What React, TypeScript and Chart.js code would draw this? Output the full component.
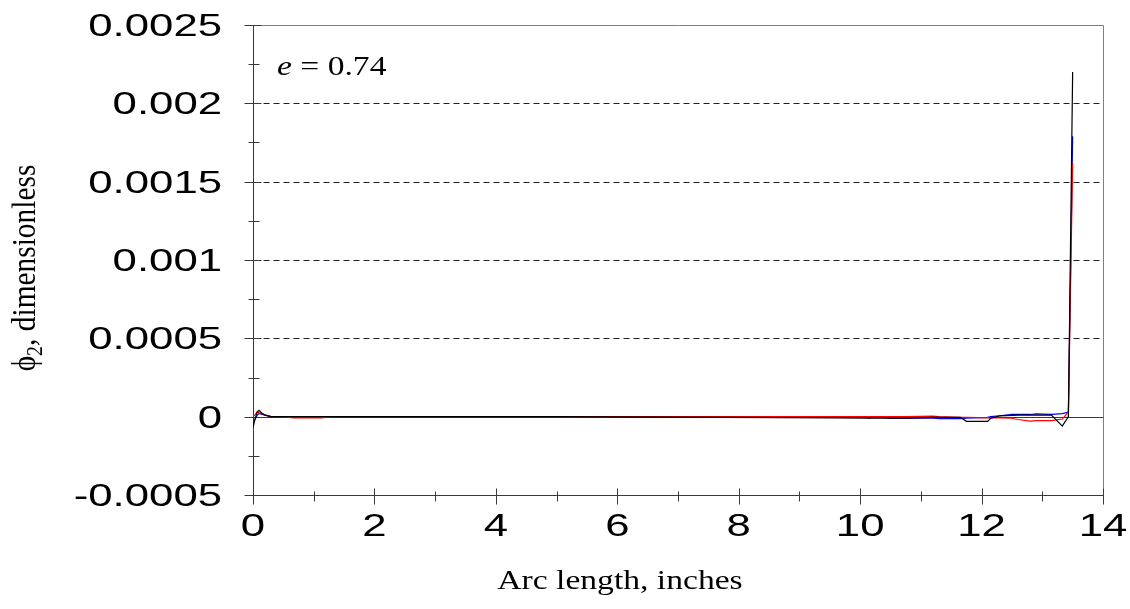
import React, { useEffect, useRef } from 'react';
import { Chart, registerables } from 'chart.js';

Chart.register(...registerables);

// Arc length along the surface, inches (shared sample positions)
const arcLength = [
  0, 0.03, 0.07, 0.1, 0.15, 0.2, 0.25, 0.3, 0.35, 0.5, 0.66, 1.12, 1.3, 5,
  9.6, 10.1, 10.15, 10.2, 10.5, 10.75, 11.2, 11.3, 11.65, 11.75, 12.1, 12.15,
  12.3, 12.5, 12.6, 12.8, 12.9, 13.15, 13.33, 13.43, 13.5,
];

// phi_2 for each run (dimensionless)
const phiBlack = [
  -0.00007, -0.00002, 0.00003, 0.00004, 0.00002, 0.00001, 0.000005, 0, 0, 0, 0, 0, 0, 0,
  -0.000008, -0.00001, -0.00001, -0.00001, -0.00001, -0.00001, -0.000004, -0.000004, -0.000004, -0.00003, -0.00003, -0.00001,
  0.000005, 0.000008, 0.00001, 0.00001, 0.00001, 0.00001, -0.00006, 0, 0.0022,
];
const phiBlue = [
  -0.00004, -0.00002, 0.00001, 0.00002, 0.000015, 0.00001, 0.000005, -0.000005, 0, 0, 0, 0, 0, 0,
  0, 0, -0.00001, 0, -0.00001, -0.00001, -0.00001, -0.000013, -0.000013, -0.00001, -0.000005, 0,
  0.000006, 0.000014, 0.000014, 0.000014, 0.000018, 0.000015, 0.00002, 0.00003, 0.00179,
];
const phiRed = [
  0, 0.00001, 0.00003, 0.000025, 0.00002, 0.00001, 0.000005, 0, 0, 0, -0.000008, -0.000008, 0, 0,
  0, 0, 0, 0, 0, 0, 0.000003, 0, -0.000005, -0.000005, -0.000008, -0.000008,
  -0.000008, -0.00001, -0.000018, -0.000028, -0.000025, -0.000025, -0.000015, 0.00003, 0.00162,
];

// Axis ticks and labels
const xTickValues = [0, 2, 4, 6, 8, 10, 12, 14];
const xTickLabels = ['0', '2', '4', '6', '8', '10', '12', '14'];
const yTickValues = [-0.0005, 0, 0.0005, 0.001, 0.0015, 0.002, 0.0025];
const yTickLabels = ['-0.0005', '0', '0.0005', '0.001', '0.0015', '0.002', '0.0025'];
const gridValues = [0.0005, 0.001, 0.0015, 0.002];
const xMinorStep = 1;
const yMinorStep = 0.00025;

const xTitle = 'Arc length, inches';
const yTitleSymbol = '\u03D5';
const yTitleSub = '2';
const yTitleRest = ', dimensionless';
const noteVar = 'e';
const noteRest = ' = 0.74';

const TICK_FONT = '31px "Liberation Sans", Arial, sans-serif';
const SERIF = '"Liberation Serif", "Times New Roman", serif';
const AXIS_COLOR = '#3a3a3a';

function stretchedText(
  ctx: CanvasRenderingContext2D,
  text: string,
  x: number,
  y: number,
  align: CanvasTextAlign,
  sx: number,
) {
  ctx.save();
  ctx.translate(x, y);
  ctx.scale(sx, 1);
  ctx.textAlign = align;
  ctx.textBaseline = 'alphabetic';
  ctx.fillText(text, 0, 0);
  ctx.restore();
}

const framePlugin = {
  id: 'frameAndAxes',
  beforeDatasetsDraw(chart: any) {
    const { ctx, scales } = chart;
    const x = scales.x;
    const y = scales.y;
    const px = (v: number) => Math.round(x.getPixelForValue(v)) + 0.5;
    const py = (v: number) => Math.round(y.getPixelForValue(v)) + 0.5;
    const left = px(x.min);
    const right = px(x.max);
    const top = py(y.max);
    const bottom = py(y.min);

    ctx.save();
    ctx.lineWidth = 1;

    // dashed horizontal gridlines
    ctx.strokeStyle = '#202020';
    ctx.setLineDash([6, 4]);
    for (const v of gridValues) {
      ctx.beginPath();
      ctx.moveTo(left, py(v));
      ctx.lineTo(right, py(v));
      ctx.stroke();
    }
    ctx.setLineDash([]);

    // plot frame (top/right)
    ctx.strokeStyle = '#808080';
    ctx.beginPath();
    ctx.moveTo(left, top);
    ctx.lineTo(right, top);
    ctx.lineTo(right, bottom);
    ctx.stroke();

    // zero line
    ctx.strokeStyle = AXIS_COLOR;
    ctx.beginPath();
    ctx.moveTo(left, py(0));
    ctx.lineTo(right, py(0));
    ctx.stroke();

    // axes
    ctx.beginPath();
    ctx.moveTo(left, top);
    ctx.lineTo(left, bottom);
    ctx.lineTo(right, bottom);
    ctx.stroke();

    // x ticks crossing the axis
    for (let v = x.min; v <= x.max + 1e-9; v += xMinorStep) {
      const major = Math.abs(v % 2) < 1e-9;
      const up = major ? 7 : 4;
      const down = major ? 9 : 6;
      ctx.beginPath();
      ctx.moveTo(px(v), bottom - up);
      ctx.lineTo(px(v), bottom + down);
      ctx.stroke();
    }
    // y ticks crossing the axis
    const nY = Math.round((y.max - y.min) / yMinorStep);
    for (let i = 0; i <= nY; i++) {
      const v = y.min + i * yMinorStep;
      const major = i % 2 === 0;
      const l = major ? 9 : 5;
      const r = major ? 8 : 6;
      ctx.beginPath();
      ctx.moveTo(left - l, py(v));
      ctx.lineTo(left + r, py(v));
      ctx.stroke();
    }
    ctx.restore();
  },
  afterDraw(chart: any) {
    const { ctx, scales, chartArea: a } = chart;
    const x = scales.x;
    const y = scales.y;
    ctx.save();
    ctx.fillStyle = '#000';

    // tick labels
    ctx.font = TICK_FONT;
    yTickValues.forEach((v, i) => {
      stretchedText(ctx, yTickLabels[i], a.left - 31, y.getPixelForValue(v) + 11, 'right', 1.41);
    });
    xTickValues.forEach((v, i) => {
      stretchedText(ctx, xTickLabels[i], x.getPixelForValue(v), 536, 'center', 1.41);
    });

    // x title
    ctx.font = `28px ${SERIF}`;
    stretchedText(ctx, xTitle, 620, 589, 'center', 1.2);

    // y title (rotated, with subscript)
    ctx.save();
    ctx.translate(35, 268);
    ctx.rotate(-Math.PI / 2);
    ctx.scale(1.05, 1.2);
    ctx.font = `28px ${SERIF}`;
    const w1 = ctx.measureText(yTitleSymbol).width;
    const w3 = ctx.measureText(yTitleRest).width;
    ctx.font = `19px ${SERIF}`;
    const w2 = ctx.measureText(yTitleSub).width;
    let cx = -(w1 + w2 + w3) / 2;
    ctx.textAlign = 'left';
    ctx.font = `28px ${SERIF}`;
    ctx.fillText(yTitleSymbol, cx, 0);
    cx += w1;
    ctx.font = `19px ${SERIF}`;
    ctx.fillText(yTitleSub, cx, 6);
    cx += w2;
    ctx.font = `28px ${SERIF}`;
    ctx.fillText(yTitleRest, cx, 0);
    ctx.restore();

    // annotation
    ctx.save();
    ctx.translate(277, 75);
    ctx.scale(1.2, 1);
    ctx.textAlign = 'left';
    ctx.font = `italic 28px ${SERIF}`;
    ctx.fillText(noteVar, 0, 0);
    const we = ctx.measureText(noteVar).width;
    ctx.font = `28px ${SERIF}`;
    ctx.fillText(noteRest, we, 0);
    ctx.restore();

    ctx.restore();
  },
};

function toPoints(values: number[]) {
  return arcLength.map((s, i) => ({ x: s, y: values[i] }));
}

export default function App() {
  const canvasRef = useRef<HTMLCanvasElement | null>(null);

  useEffect(() => {
    const canvas = canvasRef.current;
    if (!canvas) return;
    const chart = new Chart(canvas, {
      type: 'line',
      data: {
        datasets: [
          { label: 'black', data: toPoints(phiBlack), borderColor: '#000000', borderWidth: 1.2, pointRadius: 0, order: 0 },
          { label: 'red', data: toPoints(phiRed), borderColor: '#ff0000', borderWidth: 1.2, pointRadius: 0, order: 1 },
          { label: 'blue', data: toPoints(phiBlue), borderColor: '#0000ff', borderWidth: 1.2, pointRadius: 0, order: 2 },
        ],
      },
      options: {
        responsive: false,
        animation: false,
        layout: { padding: { left: 253, right: 27, top: 25, bottom: 114 } },
        plugins: { legend: { display: false }, tooltip: { enabled: false } },
        elements: { line: { tension: 0 } },
        scales: {
          x: { type: 'linear', min: 0, max: 14, display: false },
          y: { type: 'linear', min: -0.0005, max: 0.0025, display: false },
        },
      },
      plugins: [framePlugin],
    });
    return () => chart.destroy();
  }, []);

  return (
    <div style={{ position: 'absolute', left: 0, top: 0, width: 1130, height: 609, background: '#fff' }}>
      <canvas ref={canvasRef} width={1130} height={609} style={{ display: 'block' }} />
    </div>
  );
}
